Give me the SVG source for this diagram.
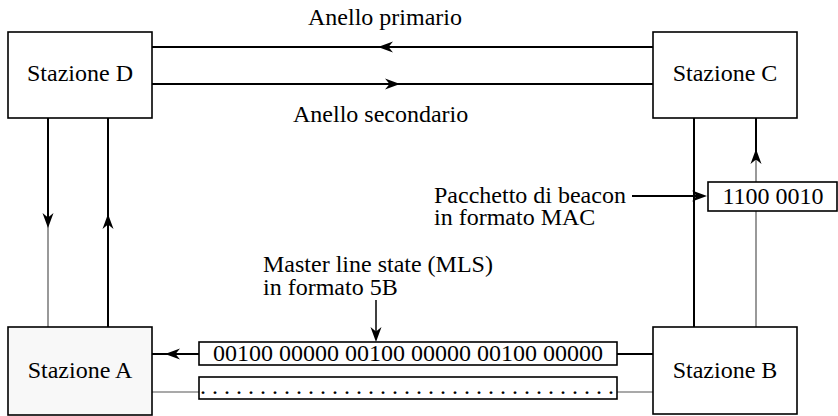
<svg xmlns="http://www.w3.org/2000/svg" xmlns:xlink="http://www.w3.org/1999/xlink" width="838" height="416" viewBox="0 0 838 416">
<style>
  text { font-family: 'Liberation Serif', 'Times New Roman', Times, 'DejaVu Serif', serif; font-size: 24px; fill: #000; }
  .mid { text-anchor: middle; }
  .box { fill: #fff; stroke: #000; stroke-width: 1.6; }
  .thick { fill: none; stroke: #000; stroke-width: 2; }
  .thin { fill: none; stroke: #555; stroke-width: 1.2; }
  .ah { fill: #000; stroke: none; }
</style>
<defs>
  <path id="ah" d="M0,0 L-15,-5.5 L-10.5,0 L-15,5.5 Z"/>
</defs>
<rect width="838" height="416" fill="#fff"/>

<g id="connectors">
  <path class="thick" d="M152,47 H653"/>
  <path class="thick" d="M152,84 H653"/>
  <path class="thick" d="M48,118 V222"/>
  <path class="thin" d="M48,222 V327"/>
  <path class="thick" d="M108,118 V327"/>
  <path class="thick" d="M694,118 V327"/>
  <path class="thick" d="M756,118 V160"/>
  <path class="thin" d="M756,160 V327"/>
  <path class="thick" d="M632,196 H700"/>
  <path class="thick" d="M376,300 V335" style="stroke-width:1.5"/>
  <path class="thick" d="M152,354 H199"/>
  <path class="thick" d="M617,354 H653"/>
  <path class="thin" d="M152,392 H199"/>
  <path class="thin" d="M617,392 H653"/>
  <use href="#ah" class="ah" transform="translate(378,47) rotate(180)"/>
  <use href="#ah" class="ah" transform="translate(400,84)"/>
  <use href="#ah" class="ah" transform="translate(48,228) rotate(90)"/>
  <use href="#ah" class="ah" transform="translate(108,214) rotate(-90)"/>
  <use href="#ah" class="ah" transform="translate(756,149) rotate(-90)"/>
  <use href="#ah" class="ah" transform="translate(707,196)"/>
  <use href="#ah" class="ah" transform="translate(376,342) rotate(90)"/>
  <use href="#ah" class="ah" transform="translate(165,354) rotate(180)"/>
</g>

<g id="label-primario">
  <text x="308" y="25" font-family="Liberation Serif, serif">Anello primario</text>
</g>
<g id="label-secondario">
  <text x="293" y="122" font-family="Liberation Serif, serif">Anello secondario</text>
</g>

<g id="stazione-d">
  <rect class="box" x="8" y="32" width="144" height="86"/>
  <text class="mid" x="80" y="81">Stazione D</text>
</g>
<g id="stazione-c">
  <rect class="box" x="653" y="32" width="144" height="86"/>
  <text class="mid" x="725" y="81">Stazione C</text>
</g>
<g id="stazione-a">
  <rect class="box" x="8" y="327" width="144" height="88" style="fill:#f8f8f8"/>
  <text class="mid" x="80" y="378">Stazione A</text>
</g>
<g id="stazione-b">
  <rect class="box" x="653" y="327" width="144" height="87"/>
  <text class="mid" x="725" y="378">Stazione B</text>
</g>

<g id="beacon-box">
  <rect class="box" x="708" y="182" width="129" height="29"/>
  <text class="mid" x="773" y="204">1100 0010</text>
</g>
<g id="beacon-label">
  <text x="434" y="203">Pacchetto di beacon</text>
  <text x="434" y="225">in formato MAC</text>
</g>

<g id="mls-label">
  <text x="263" y="272">Master line state (MLS)</text>
  <text x="263" y="295">in formato 5B</text>
</g>
<g id="mls-box">
  <rect class="box" x="199" y="342" width="418" height="23"/>
  <text class="mid" x="408" y="361">00100 00000 00100 00000 00100 00000</text>
</g>
<g id="dots-box">
  <rect class="box" x="199" y="377" width="418" height="22"/>
  <text x="200" y="394">. . . . . . . . . . . . . . . . . . . . . . . . . . . . . . . . . . .</text>
</g>
</svg>
